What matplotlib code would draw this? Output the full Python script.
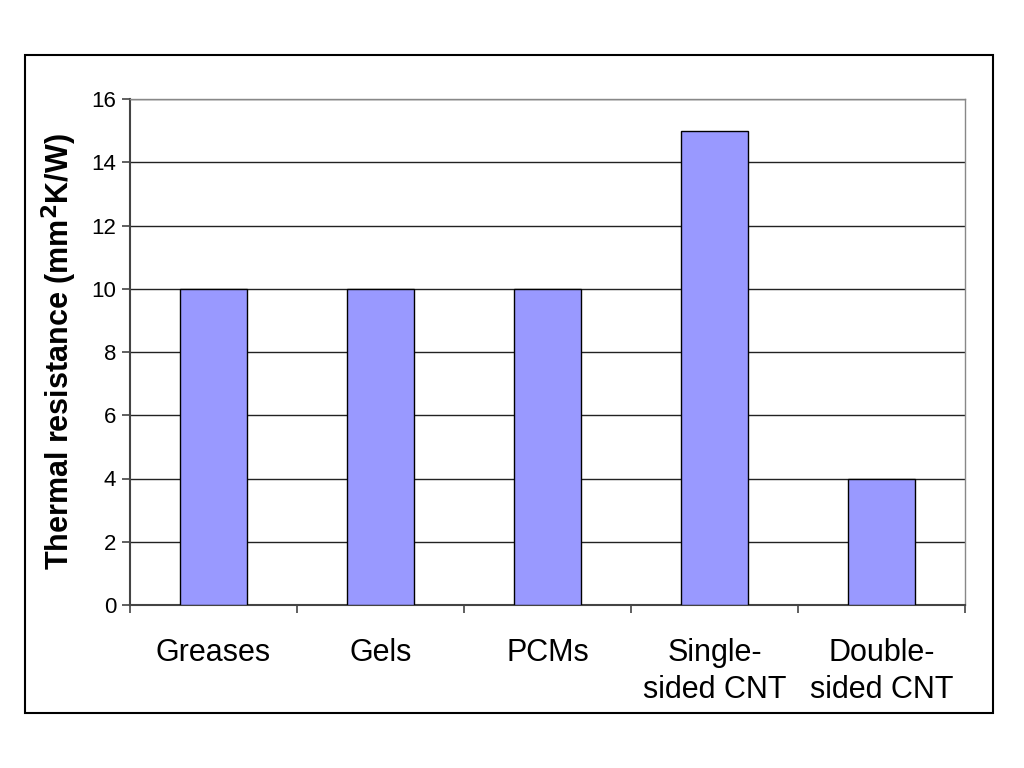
import matplotlib
matplotlib.use("Agg")
import matplotlib.pyplot as plt
from matplotlib.patches import Rectangle

categories = ["Greases", "Gels", "PCMs", "Single-\nsided CNT", "Double-\nsided CNT"]
values = [10, 10, 10, 15, 4]
yticks = [0, 2, 4, 6, 8, 10, 12, 14, 16]

plt.rcParams['font.family'] = ['Liberation Sans', 'DejaVu Sans']

fig = plt.figure(figsize=(10.24, 7.68), dpi=100)
fig.patches.append(Rectangle((25/1024, 1-713/768), (993-25)/1024, (713-55)/768,
                             transform=fig.transFigure, fill=False,
                             edgecolor='black', linewidth=1.5))

ax = fig.add_axes([130/1024, 1-605/768, (965-130)/1024, (605-99)/768])
x = list(range(len(categories)))
ax.bar(x, values, width=0.4, color='#9999FF', edgecolor='black', linewidth=1.0, zorder=3)
ax.set_xlim(-0.5, len(categories)-0.5)
ax.set_ylim(0, 16)
ax.set_yticks(yticks)
ax.set_yticklabels([str(t) for t in yticks], fontsize=16)
ax.yaxis.grid(True, color='#222222', linewidth=1.0, zorder=0)
ax.set_axisbelow(True)

ax.set_xticks(x)
ax.set_xticklabels(categories, fontsize=22, linespacing=1.3)
ax.tick_params(axis='x', which='major', length=0, pad=24)
ax.set_xticks([i - 0.5 for i in range(len(categories)+1)], minor=True)
ax.tick_params(axis='x', which='minor', length=6, width=1.2, color='#444444', direction='out')
ax.tick_params(axis='y', length=6, width=1.2, color='#444444', direction='out', pad=4)

for s in ['left', 'bottom']:
    ax.spines[s].set_color('#444444')
    ax.spines[s].set_linewidth(1.5)
for s in ['top', 'right']:
    ax.spines[s].set_color('#888888')
    ax.spines[s].set_linewidth(1.0)

ax.set_ylabel(r'Thermal resistance (mm$^\mathbf{2}$K/W)', fontsize=22, fontweight='bold', labelpad=9)

fig.savefig('out.png', dpi=100, facecolor='white')
